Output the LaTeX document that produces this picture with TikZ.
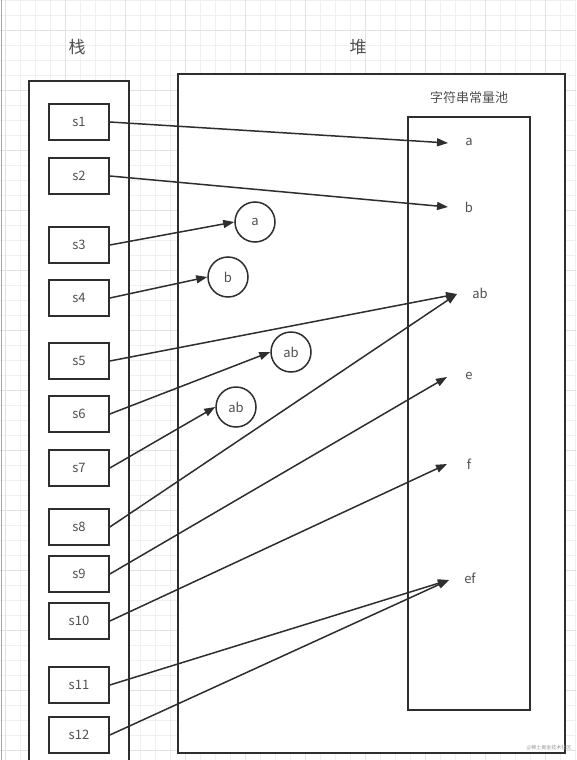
\documentclass[tikz,border=0pt]{standalone}
\usepackage{fontspec}
\setmainfont{Noto Sans CJK SC}
\usetikzlibrary{arrows.meta}
\definecolor{ln}{HTML}{2E2E2E}
\definecolor{tx}{HTML}{505050}
\definecolor{gmin}{HTML}{F0F0F0}
\definecolor{gmaj}{HTML}{E2E2E2}
\tikzset{
  sbox/.style={draw=ln, line width=1.7pt, minimum width=60pt, minimum height=36pt, inner sep=0pt, text=tx, font=\fontsize{13}{13}\selectfont},
  cnode/.style={draw=ln, line width=1.5pt, circle, minimum size=40pt, inner sep=0pt, text=tx, font=\fontsize{13}{13}\selectfont},
  plabel/.style={inner sep=0pt, text=tx, font=\fontsize{13}{13}\selectfont},
  frame/.style={draw=ln, line width=1.7pt},
  conn/.style={draw=ln, line width=1.5pt, -{Triangle[length=11pt,width=8pt]}},
  title/.style={inner sep=0pt, text=tx},
}
\begin{document}
\begin{tikzpicture}[x=1pt,y=-1pt]
\useasboundingbox (0,0) rectangle (576,760);
\clip (0,0) rectangle (576,760);
\fill[white] (0,0) rectangle (576,760);
% grid
\foreach \i in {0,...,38} {\draw[gmin, line width=0.8pt] (5+15*\i,0) -- (5+15*\i,760);}
\foreach \j in {0,...,51} {\draw[gmin, line width=0.8pt] (0,15*\j) -- (576,15*\j);}
\foreach \i in {0,...,9} {\draw[gmaj, line width=0.8pt] (5+60*\i,0) -- (5+60*\i,760);}
\foreach \j in {0,...,12} {\draw[gmaj, line width=0.8pt] (0,30+60*\j) -- (576,30+60*\j);}
\draw[gray!70, line width=1pt] (1,0) -- (1,760);
% titles
\node[title, font=\fontsize{17}{17}\selectfont] (tstack) at (77,47) {栈};
\node[title, font=\fontsize{17}{17}\selectfont] (theap) at (358,47) {堆};
% frames
\draw[frame, fill=white] (29,81) rectangle (129,775);
\draw[frame, fill=white] (178,74) rectangle (565,753);
\node[title, font=\fontsize{13}{13}\selectfont] (tpool) at (469,98) {字符串常量池};
\draw[frame] (408,117) rectangle (530,710);
% stack boxes
\node[sbox] (s1) at (79,122) {s1};
\node[sbox] (s2) at (79,176) {s2};
\node[sbox] (s3) at (79,245) {s3};
\node[sbox] (s4) at (79,298) {s4};
\node[sbox] (s5) at (79,361) {s5};
\node[sbox] (s6) at (79,414) {s6};
\node[sbox] (s7) at (79,468) {s7};
\node[sbox] (s8) at (79,527) {s8};
\node[sbox] (s9) at (79,574) {s9};
\node[sbox] (s10) at (79,621) {s10};
\node[sbox] (s11) at (79,685) {s11};
\node[sbox] (s12) at (79,735) {s12};
% heap objects
\node[cnode] (ca) at (255,222) {a};
\node[cnode] (cb) at (228,277) {b};
\node[cnode] (cab1) at (291,352) {ab};
\node[cnode] (cab2) at (236,407) {ab};
% pool strings
\node[plabel] (pa) at (469,142) {a};
\node[plabel] (pb) at (469,207) {b};
\node[plabel] (pab) at (480,293) {ab};
\node[plabel] (pe) at (469,376) {e};
\node[plabel] (pf) at (469,464) {f};
\node[plabel] (pef) at (470,578) {ef};
\coordinate (ta) at (448,143);
\coordinate (tb) at (448,207);
\coordinate (tab) at (457,294);
\coordinate (te) at (447,377);
\coordinate (tf) at (447,464);
\coordinate (tef) at (449,580);
% connectors
\draw[conn] (s1.east) -- (ta);
\draw[conn] (s2.east) -- (tb);
\draw[conn] (s3.east) -- (ca.west);
\draw[conn] (s4.east) -- (cb.west);
\draw[conn] (s5.east) -- (tab);
\draw[conn] (s6.east) -- (cab1.west);
\draw[conn] (s7.east) -- (cab2.west);
\draw[conn] (s8.east) -- (tab);
\draw[conn] (s9.east) -- (te);
\draw[conn] (s10.east) -- (tf);
\draw[conn] (s11.east) -- (tef);
\draw[conn] (s12.east) -- (tef);
% watermark
\node[inner sep=0pt, text=gray!80, font=\fontsize{5}{5}\selectfont] (wm) at (549,748) {@稀土掘金技术社区};
\end{tikzpicture}
\end{document}
